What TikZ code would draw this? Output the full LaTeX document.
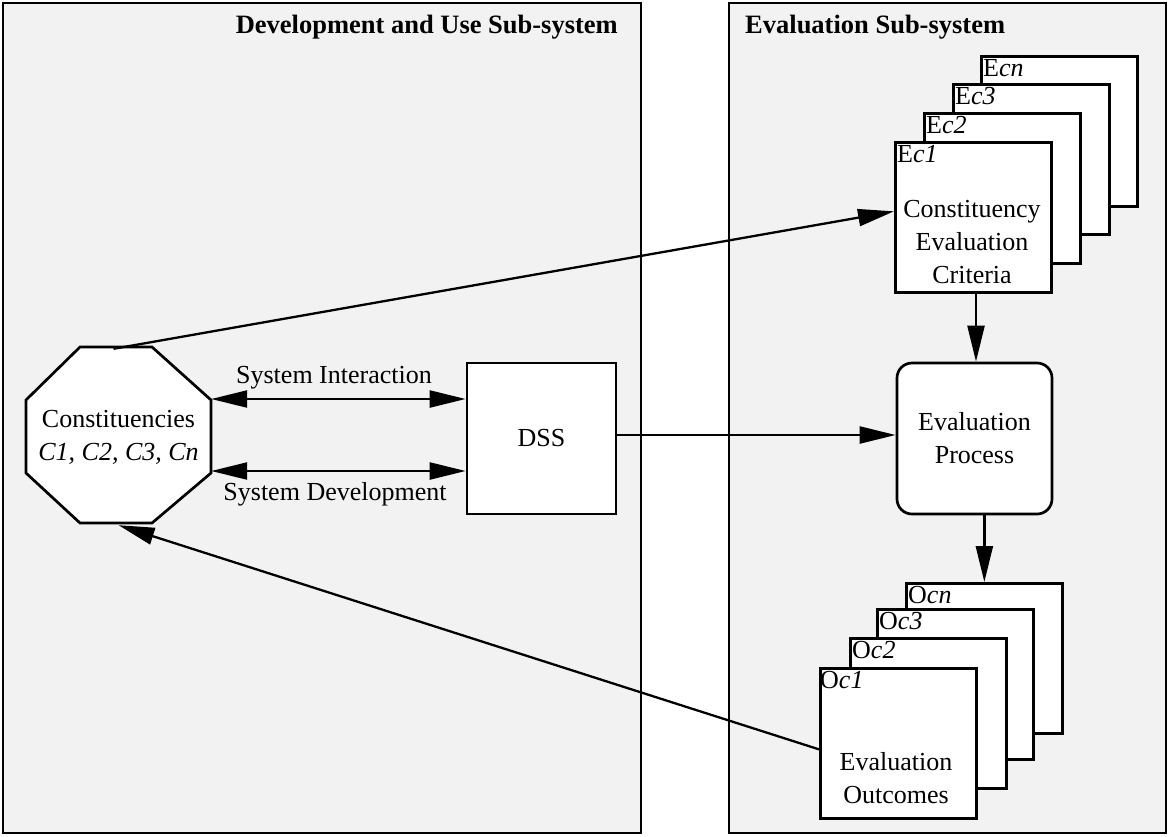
\documentclass[tikz,border=0pt]{standalone}
\usepackage{fontspec}
\setmainfont{Liberation Serif}
\usetikzlibrary{arrows.meta,calc}
\begin{document}
\begin{tikzpicture}[x=1pt,y=-1pt,
  every node/.style={font=\fontsize{26}{33}\selectfont},
  panel/.style={draw, line width=2.5pt, fill=black!5},
  boxline/.style={draw, line width=2.7pt, fill=white},
  card/.style={boxline, minimum width=156pt, minimum height=150pt, inner sep=0pt, anchor=north west},
  lbl/.style={anchor=base west, inner sep=0pt},
  txt/.style={align=center, inner sep=0pt},
  ttl/.style={font=\fontsize{26.5}{33}\selectfont\bfseries, inner sep=0pt},
  arr/.style={line width=2.3pt, -{Triangle[length=36pt,width=17pt]}},
  dbl/.style={line width=2.3pt, {Triangle[length=36pt,width=17pt]}-{Triangle[length=36pt,width=17pt]}}
]
\useasboundingbox (0,0) rectangle (1172,836);

% panels
\path[panel] (3,3) rectangle (641,833);
\path[panel] (729,3) rectangle (1166,833);
\node[ttl, anchor=base east] (t1) at (618,33) {Development and Use Sub-system};
\node[ttl, anchor=base west] (t2) at (745,33) {Evaluation Sub-system};

% octagon
\draw[line width=2.7pt, fill=white] (80,347) -- (152,347) -- (211,400) -- (211,473) -- (152,523) -- (80,523) -- (26,473) -- (26,400) -- cycle;
\node[txt, minimum width=185pt, minimum height=176pt] (const) at (118.5,437) {Constituencies\\\textit{C1, C2, C3, Cn}};

% DSS
\node[boxline, minimum width=149pt, minimum height=151pt, inner sep=0pt] (dss) at (541.5,438.5) {DSS};

% evaluation criteria cards
\node[card] (ecn) at (980,55) {};
\node[lbl] (ecnl) at ($(ecn.north west)+(3,21)$) {E\textit{cn}};
\node[card] (ec3) at (952,83) {};
\node[lbl] (ec3l) at ($(ec3.north west)+(3,21)$) {E\textit{c3}};
\node[card] (ec2) at (923,112) {};
\node[lbl] (ec2l) at ($(ec2.north west)+(3,21)$) {E\textit{c2}};
\node[card] (ec1) at (894,141) {};
\node[lbl] (ec1l) at ($(ec1.north west)+(3,21)$) {E\textit{c1}};
\node[txt] (ec1t) at (972,242) {Constituency\\Evaluation\\Criteria};

% evaluation process
\node[boxline, rounded corners=15pt, minimum width=155pt, minimum height=151pt, txt] (ep) at (974.5,438.5) {Evaluation\\Process};

% outcome cards
\node[card] (ocn) at (905,582) {};
\node[lbl] (ocnl) at ($(ocn.north west)+(3,21)$) {O\textit{cn}};
\node[card] (oc3) at (876,608) {};
\node[lbl] (oc3l) at ($(oc3.north west)+(3,21)$) {O\textit{c3}};
\node[card] (oc2) at (849,637) {};
\node[lbl] (oc2l) at ($(oc2.north west)+(3,21)$) {O\textit{c2}};
\node[card] (oc1) at (819,667) {};
\node[lbl] (oc1l) at ($(oc1.north west)+(1,21)$) {O\textit{c1}};
\node[txt] (oc1t) at (896,778) {Evaluation\\Outcomes};

% connectors
\draw[dbl] (const.east |- 0,399) coordinate (si1) -- (dss.west |- 0,399) coordinate (si2);
\node[anchor=base] (sil) at (334,383) {System Interaction};
\draw[dbl] (const.east |- 0,471) coordinate (sd1) -- (dss.west |- 0,471) coordinate (sd2);
\node[anchor=base] (sdl) at (335,500) {System Development};

\draw[arr] (dss.east |- 0,435) -- (ep.west |- 0,435);
\draw[arr] ([xshift=-5pt]const.north) -- ([yshift=6pt]ec1.west);
\draw[arr] (ec1.south -| 976,0) -- (ep.north -| 976,0);
\draw[arr] (ep.south -| ocn.north) -- (ocn.north);
\draw[arr] ([yshift=-6pt]oc1.west) -- (const.south);
\end{tikzpicture}
\end{document}
